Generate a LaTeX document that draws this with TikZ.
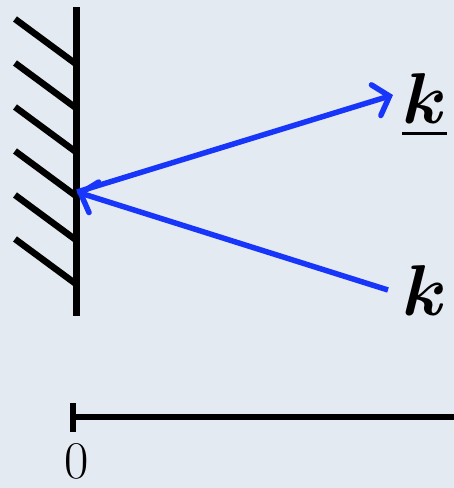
\documentclass[tikz,border=0pt]{standalone}
\usepackage{fix-cm}
\usepackage{amsmath,amssymb,bm}
\usepackage{tikz}
\usetikzlibrary{arrows.meta,positioning}
\definecolor{paperblue}{RGB}{228,234,242}
\definecolor{rayblue}{RGB}{24,54,250}

\begin{document}
\begin{tikzpicture}[x=1pt,y=-1pt,
    wallline/.style={line width=7pt},
    hatchline/.style={line width=6.5pt},
    axisline/.style={line width=5.5pt},
    ray/.style={draw=rayblue,line width=5.5pt,
      -{Straight Barb[length=14pt,width=32pt,line cap=round]}},
    biglabel/.style={inner sep=0pt,font=\fontsize{72}{80}\selectfont},
    ticklabel/.style={inner sep=0pt,font=\fontsize{53}{58}\selectfont}]
  % paper and frame
  \fill[paperblue] (0,0) rectangle (454,488);
  \useasboundingbox (0,0) rectangle (454,488);

  % wall with hatching
  \coordinate (walltop) at (76,7);
  \coordinate (wallbot) at (76,316);
  \foreach \i in {0,...,5}
    \draw[hatchline] (15,19+44*\i) -- (76,64+44*\i);
  \draw[wallline] (walltop) -- (wallbot);

  % incoming and reflected rays
  \coordinate (hit) at (77,192);
  \coordinate (src) at (388,290);
  \coordinate (dst) at (393,95);
  \draw[ray] (src) -- (hit);
  \draw[ray] (hit) -- (dst);
  \node[biglabel,anchor=base west] (kin) at (402,315) {$\bm{k}$};
  \node[biglabel,anchor=base west] (kout) at (402,123) {$\underline{\bm{k}}$};

  % axis
  \coordinate (origin) at (73,417);
  \coordinate (axisend) at (470,417);
  \draw[axisline] (origin) -- (axisend);
  \draw[axisline] ([yshift=14pt]origin) -- ([yshift=-15pt]origin);
  \node[ticklabel,anchor=base] (zero) at (77,478) {0};
\end{tikzpicture}
\end{document}
